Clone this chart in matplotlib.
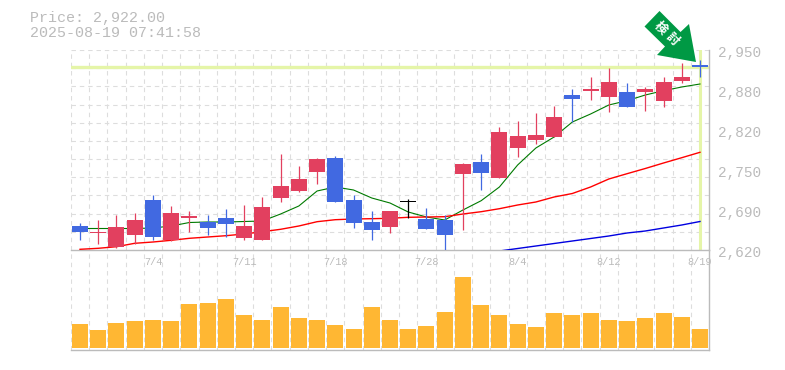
import matplotlib
matplotlib.use("Agg")
import matplotlib.pyplot as plt
from matplotlib.patches import Polygon

W, H = 785, 370
PRICE_TOP, PRICE_BOTTOM = 2950, 2620

def row_price(row):
    return PRICE_TOP - (row - 50) * (PRICE_TOP - PRICE_BOTTOM) / 200


body_top = [226, 232, 227, 220, 200, 213, 216, 222, 218, 226, 207, 186, 179, 159, 158, 200, 222, 211,
            201, 219, 220, 164, 162, 132, 136, 135, 117, 95, 89, 82, 92, 89, 82, 77, 65]
body_bottom = [232, 233, 247, 235, 237, 240, 218, 228, 224, 238, 240, 198, 191, 172, 202, 223, 230, 227,
               202, 229, 235, 174, 173, 178, 148, 140, 137, 99, 91, 97, 107, 92, 101, 81, 67]
wick_top = [223, 220, 215, 213, 195, 206, 211, 215, 209, 205, 197, 154, 166, 158, 156, 195, 211, 211,
            199, 208, 215, 163, 154, 127, 121, 113, 106, 89, 77, 68, 83, 87, 77, 63, 60]
wick_bottom = [240, 244, 248, 244, 240, 241, 232, 235, 237, 240, 240, 202, 192, 184, 202, 228, 240, 233,
               218, 229, 251, 230, 190, 178, 157, 144, 137, 122, 100, 112, 107, 111, 107, 83, 77]
candle_colors = ["b", "r", "r", "r", "b", "r", "r", "b", "b", "r", "r", "r", "r", "r", "b", "b", "b", "r",
                 "k", "b", "b", "r", "b", "r", "r", "r", "r", "b", "r", "r", "b", "r", "r", "r", "b"]
ma_short = [228.5, 228.5, 228.5, 228.5, 228, 226, 222.5, 222, 222, 221.5, 221, 214, 206, 191, 187, 190, 198, 203,
            212, 217, 220, 210, 200.7, 187, 165, 148, 137, 122, 114, 105, 100.7, 95, 90.7, 87, 84]
ma_mid = [249.3, 248.3, 246.7, 243.3, 242, 240.3, 238.3, 237, 235.7, 234, 231.7, 229.3, 226, 221.7, 219.7, 219,
          218.7, 218.3, 217.3, 217, 216.7, 214, 211.7, 208.7, 205, 202, 197, 193.5, 187, 179, 173.7, 168.5, 163,
          157.7, 152.3]
ma_long = [251, 248.5, 246, 243.5, 241, 238.5, 236, 233, 231, 228, 225, 221.5]
volumes = [24, 18, 25, 27, 28, 27, 44, 45, 49, 33, 28, 41, 30, 28, 23, 19, 41, 28,
           19, 22, 36, 71, 43, 33, 24, 21, 35, 33, 35, 28, 27, 30, 35, 31, 19]
date_idx = [4, 9, 14, 19, 24, 29, 34]
date_labels = ["7/4", "7/11", "7/18", "7/28", "8/4", "8/12", "8/19"]
price_ticks = [2620, 2686, 2752, 2818, 2884, 2950]
price_labels = ["2,620", "2,690", "2,750", "2,820", "2,880", "2,950"]
last_price = 2922

COLORS = {"b": "#4169E1", "r": "#E2405F", "k": "#000000"}
GRID = "#DDDDDD"
AXIS = "#BBBBBB"
TEXT = "#BBBBBB"
MONO = "Liberation Mono"

fig = plt.figure(figsize=(W / 100, H / 100), dpi=100)
left, right = 70.9, 709.1
vol = fig.add_axes([left / W, 1 - 350 / H, (right - left) / W, 100 / H])
ax = fig.add_axes([left / W, 1 - 250 / H, (right - left) / W, 200 / H])

n = len(volumes)
xs = list(range(n))
for a in (ax, vol):
    a.patch.set_visible(False)
    a.set_xlim(-0.5, n - 0.5)
    a.set_xticks([i - 0.5 for i in range(n + 1)])
    a.grid(True, axis="x", color=GRID, linewidth=0.8, linestyle=(0, (4, 3.5)))
    a.set_axisbelow(True)
    a.tick_params(length=0, labelbottom=False, labelleft=False)
    for s in a.spines.values():
        s.set_visible(False)
    a.spines["bottom"].set_visible(True)
    a.spines["bottom"].set_color(AXIS)
    a.spines["bottom"].set_linewidth(1.0)
    a.spines["right"].set_visible(True)
    a.spines["right"].set_color(AXIS)
    a.spines["right"].set_linewidth(1.0)

ax.set_ylim(PRICE_BOTTOM, PRICE_TOP)
ax.set_yticks([PRICE_BOTTOM + 30 * k for k in range(12)])
ax.grid(True, axis="y", color=GRID, linewidth=0.8, linestyle=(0, (4, 3.5)))

# current price cross hair band
ax.axhline(last_price, color="#E5F5A8", linewidth=2.4, zorder=1)
ax.axvline(n - 1, color="#E5F5A8", linewidth=2.2, zorder=1)

for i in xs:
    c = COLORS[candle_colors[i]]
    ax.plot([i, i], [row_price(wick_bottom[i]), row_price(wick_top[i])], color=c, linewidth=0.9,
            solid_capstyle="butt", zorder=4)
    low = row_price(body_bottom[i])
    ax.bar(i, row_price(body_top[i]) - low, bottom=low, width=16 / 18.235, color=c, linewidth=0, zorder=4)

ax.plot(xs, [row_price(v) for v in ma_short], color="#007A00", linewidth=0.8, zorder=3)
ax.plot(xs, [row_price(v) for v in ma_mid], color="#FF0000", linewidth=1.0, zorder=3)
ax.plot(xs[n - len(ma_long):], [row_price(v) for v in ma_long], color="#0000E0", linewidth=1.0, zorder=3)

vol.set_ylim(-2, 98)
vol.bar(xs, volumes, width=16 / 18.235, color="#FFB733", linewidth=0, zorder=3)

# price labels on the right, date labels between the two panels
for t, lab in zip(price_ticks, price_labels):
    fig.text(718 / W, (H - (250 - (t - PRICE_BOTTOM) * 200 / 330) - 3) / H, lab, family=MONO,
             fontsize=10.4, color=TEXT, va="center", ha="left")
for i, lab in zip(date_idx, date_labels):
    ax.text(i, -0.06, lab, transform=ax.get_xaxis_transform(), family=MONO, fontsize=7.4, color=TEXT,
            ha="center", va="center")

fig.text(30 / W, 1 - 18 / H, f"Price: {last_price:,.2f}", family=MONO, fontsize=10.8, color=TEXT, va="center")
fig.text(30 / W, 1 - 33 / H, "2025-08-19 07:41:58", family=MONO, fontsize=10.8, color=TEXT, va="center")

# green arrow badge, in screen pixels
arrow = [(659.5, 11), (644.5, 26.5), (665, 46.5), (657, 55), (696, 62), (689, 24), (680.5, 32)]
fig.add_artist(Polygon([(x / W, 1 - y / H) for x, y in arrow], closed=True, transform=fig.transFigure,
                       facecolor="#009944", edgecolor="none", zorder=6))
fig.text(660 / W, 1 - 28 / H, "検", family="Noto Sans CJK JP", fontsize=9, weight="bold", color="white",
         rotation=-45, ha="center", va="center", zorder=7)
fig.text(672 / W, 1 - 39 / H, "討", family="Noto Sans CJK JP", fontsize=9, weight="bold", color="white",
         rotation=-45, ha="center", va="center", zorder=7)

fig.savefig("out.png", dpi=100)
